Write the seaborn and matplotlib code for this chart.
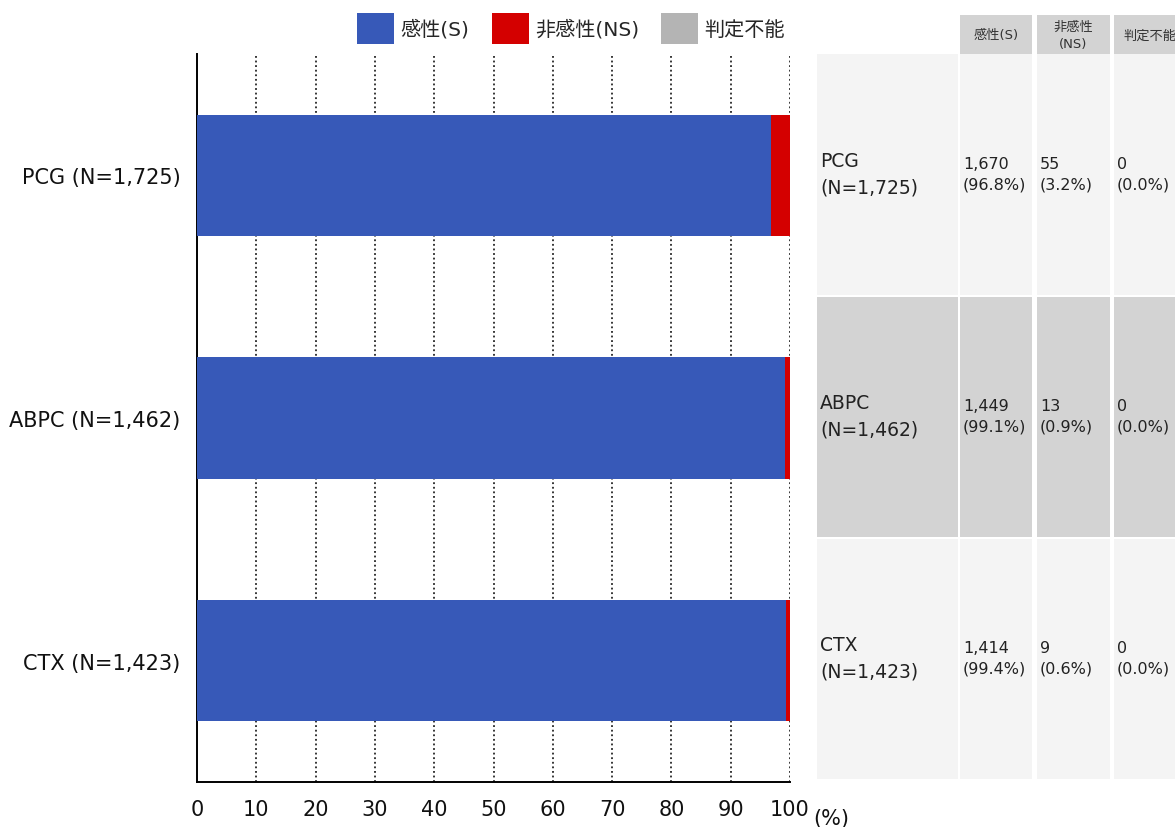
import matplotlib
matplotlib.use("Agg")
import matplotlib.pyplot as plt
from matplotlib.patches import Patch, Rectangle
import pandas as pd
import seaborn as sns

# Susceptibility results per antibiotic
drugs = ["PCG", "ABPC", "CTX"]
totals = [1725, 1462, 1423]
s_counts = [1670, 1449, 1414]
ns_counts = [55, 13, 9]
nd_counts = [0, 0, 0]
s_pct = [96.8, 99.1, 99.4]
ns_pct = [3.2, 0.9, 0.6]
nd_pct = [0.0, 0.0, 0.0]

series_names = ["感性(S)", "非感性(NS)", "判定不能"]
series_colors = ["#3759b8", "#d40000", "#b4b4b4"]
x_ticks = list(range(0, 101, 10))

sns.set_style("white")
plt.rcParams["font.family"] = ["DejaVu Sans", "Noto Sans CJK JP"]

W, H = 1175, 828
fig = plt.figure(figsize=(W / 100, H / 100), dpi=100)
ax = fig.add_axes([197 / W, 45 / H, 593 / W, 728 / H])

labels = [f"{d} (N={n:,})" for d, n in zip(drugs, totals)]
df = pd.DataFrame({
    "label": labels,
    "s": s_pct,
    "s_ns": [a + b for a, b in zip(s_pct, ns_pct)],
    "all": [a + b + c for a, b, c in zip(s_pct, ns_pct, nd_pct)],
})

# Stacked horizontal bars: draw cumulative totals back to front
for col, color in zip(["all", "s_ns", "s"], series_colors[::-1]):
    sns.barplot(data=df, x=col, y="label", orient="h", color=color,
                width=0.5, saturation=1, ax=ax, zorder=3, linewidth=0)

ax.set_xlim(0, 100)
ax.set_ylim(2.5, -0.5)
ax.set_xticks(x_ticks)
ax.set_xticklabels([str(t) for t in x_ticks], fontsize=15)
ax.tick_params(axis="x", direction="out", length=7, width=1.2, color="black", pad=5)
ax.tick_params(axis="y", length=0, labelsize=15, pad=12)
for lbl in ax.get_xticklabels() + ax.get_yticklabels():
    lbl.set_color("#111111")
ax.set_xlabel("")
ax.set_ylabel("")
for t in x_ticks[1:]:
    ax.axvline(t, color="black", linestyle=(0, (1.2, 1.8)), linewidth=1.1, zorder=1)
for side in ["top", "right"]:
    ax.spines[side].set_visible(False)
for side in ["left", "bottom"]:
    ax.spines[side].set_color("black")
    ax.spines[side].set_linewidth(1.4)
ax.text(1.04, -0.05, "(%)", transform=ax.transAxes, fontsize=15,
        ha="left", va="center", color="#111111")

# Legend
handles = [Patch(facecolor=c, edgecolor="none") for c in series_colors]
fig.legend(handles, series_names, loc="upper center", bbox_to_anchor=(0.486, 1.0),
           ncol=3, frameon=False, fontsize=14.5, handlelength=1.85, handleheight=1.95,
           handletextpad=0.3, columnspacing=1.1, borderaxespad=0.3)

# Summary table on the right, laid out in pixel coordinates
tab = fig.add_axes([0, 0, 1, 1], facecolor="none")
tab.set_xlim(0, W)
tab.set_ylim(H, 0)
tab.axis("off")

light, dark = "#f4f4f4", "#d3d3d3"
cols = [(817, 958), (960, 1032), (1037, 1110), (1114, 1200)]
rows = [(55, 296), (298, 538), (540, 780)]
row_colors = [light, dark, light]

headers = ["感性(S)", "非感性\n(NS)", "判定不能"]
for (x0, x1), h in zip(cols[1:], headers):
    tab.add_patch(Rectangle((x0, 16), x1 - x0, 39, facecolor=dark, edgecolor="none"))
    cx = (x0 + x1) / 2 if x1 <= W else (x0 + x0 + 73) / 2
    tab.text(cx, 36, h, fontsize=9.5, ha="center", va="center", linespacing=1.35,
             color="#333333")

for i, ((y0, y1), bg) in enumerate(zip(rows, row_colors)):
    for x0, x1 in cols:
        tab.add_patch(Rectangle((x0, y0), x1 - x0, y1 - y0, facecolor=bg,
                                edgecolor="none"))
    cy = (y0 + y1) / 2
    tab.text(820, cy - 1, f"{drugs[i]}\n(N={totals[i]:,})", fontsize=13.5,
             ha="left", va="center", linespacing=1.5, color="#222222")
    cells = [(s_counts[i], s_pct[i]), (ns_counts[i], ns_pct[i]), (nd_counts[i], nd_pct[i])]
    for (x0, _), (cnt, pct) in zip(cols[1:], cells):
        tab.text(x0 + 3, cy - 1, f"{cnt:,}\n({pct:.1f}%)", fontsize=11.5,
                 ha="left", va="center", linespacing=1.45, color="#222222")

fig.savefig("out.png", dpi=100)
